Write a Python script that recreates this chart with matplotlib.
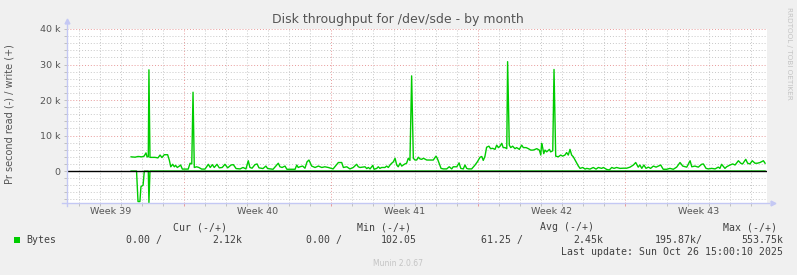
import numpy as np
import matplotlib.pyplot as plt
from matplotlib.patches import Rectangle
from matplotlib.ticker import MultipleLocator, FuncFormatter

# time axis: days since Mon 22 Sep 2025 00:00, values in kB/s
write_day = [
    4.48, 4.67, 4.81, 5.00, 5.10, 5.19, 5.24, 5.30, 5.33, 5.38,
    5.62, 5.76, 5.86, 5.95, 6.06, 6.22, 6.30, 6.37, 6.46, 6.54,
    6.60, 6.68, 6.78, 6.84, 6.92, 7.20, 7.29, 7.37, 7.43, 7.49,
    7.60, 7.71, 7.84, 8.00, 8.16, 8.25, 8.35, 8.44, 8.57, 8.68,
    8.82, 8.95, 9.08, 9.24, 9.35, 9.48, 9.67, 9.81, 9.95, 10.06,
    10.14, 10.24, 10.38, 10.48, 10.57, 10.76, 10.90, 10.98, 11.24, 11.49,
    11.57, 11.67, 11.81, 11.90, 12.29, 12.37, 12.44, 12.52, 12.65, 12.76,
    12.86, 12.95, 13.08, 13.24, 13.40, 13.56, 13.71, 13.87, 13.99, 14.10,
    14.35, 14.51, 14.59, 14.75, 14.90, 15.06, 15.22, 15.30, 15.38, 15.62,
    15.70, 15.78, 15.86, 15.99, 16.05, 16.18, 16.25, 16.33, 16.41, 16.57,
    16.65, 16.73, 16.81, 16.89, 16.97, 17.05, 17.13, 17.20, 17.29, 17.37,
    17.44, 17.52, 17.60, 17.68, 17.76, 17.84, 17.92, 18.00, 18.08, 18.16,
    18.24, 18.32, 18.40, 18.56, 18.71, 18.87, 19.00, 19.06, 19.16, 19.24,
    19.35, 19.51, 19.63, 19.75, 19.82, 19.99, 20.10, 20.18, 20.30, 20.38,
    20.46, 20.54, 20.70, 20.86, 20.97, 21.10, 21.18, 21.25, 21.33, 21.41,
    21.52, 21.60, 21.70, 21.81, 21.89, 21.97, 22.05, 22.13, 22.20, 22.29,
    22.37, 22.41, 22.49, 22.56, 22.65, 22.76, 22.84, 22.97, 23.08, 23.16,
    23.29, 23.40, 23.51, 23.63, 23.80, 23.92, 23.99, 24.03, 24.08, 24.13,
    24.19, 24.27, 24.40, 24.46, 24.56, 24.62, 24.70, 24.82, 24.94, 25.03,
    25.14, 25.22, 25.30, 25.38, 25.46, 25.54, 25.67, 25.78, 25.86, 25.99,
    26.10, 26.18, 26.33, 26.49, 26.62, 26.73, 26.89, 26.97, 27.13, 27.25,
    27.37, 27.48, 27.60, 27.76, 27.92, 28.08, 28.24, 28.40, 28.51, 28.63,
    28.71, 28.80, 28.90, 29.00, 29.11, 29.22, 29.35, 29.48, 29.59, 29.70,
    29.82, 29.99, 30.14, 30.30, 30.46, 30.62, 30.75, 30.94, 31.10, 31.18,
    31.33, 31.49, 31.65, 31.73, 31.86, 31.97, 32.13, 32.29, 32.44, 32.52,
    32.60, 32.76, 32.84, 33.00, 33.13, 33.24, 33.40, 33.51, 33.60, 33.75,
    33.84, 33.95, 34.06, 34.19, 34.30, 34.43, 34.59, 34.67,
]
write_kb = [
    4.0, 3.9, 4.1, 4.0, 4.2, 5.1, 4.0, 4.0, 28.5, 3.85,
    3.85, 3.7, 4.5, 3.8, 4.6, 4.6, 3.1, 1.2, 1.9, 1.2,
    1.6, 1.0, 1.4, 1.7, 0.55, 0.55, 2.2, 2.0, 22.2, 1.0,
    1.2, 1.0, 0.55, 0.55, 1.9, 1.0, 1.8, 1.0, 1.9, 0.9,
    1.0, 1.9, 0.9, 1.7, 1.8, 0.7, 0.6, 1.0, 0.6, 2.9,
    1.0, 0.8, 1.8, 2.0, 0.9, 0.7, 1.4, 0.7, 0.5, 2.2,
    1.2, 1.0, 1.4, 0.5, 0.5, 1.7, 1.0, 1.2, 1.4, 0.8,
    2.6, 3.1, 1.4, 1.0, 1.4, 1.0, 1.2, 1.0, 0.8, 0.6,
    2.4, 2.4, 1.0, 1.2, 0.6, 1.0, 1.9, 1.2, 1.0, 1.2,
    0.7, 1.0, 0.6, 1.6, 0.5, 0.75, 1.2, 0.75, 1.0, 1.0,
    1.4, 1.0, 1.7, 2.2, 2.6, 3.6, 1.7, 1.2, 2.2, 1.4,
    1.7, 2.0, 2.2, 3.6, 3.0, 26.8, 3.6, 3.1, 3.1, 3.9,
    3.4, 3.3, 3.6, 3.1, 3.1, 3.1, 4.2, 3.6, 2.0, 0.75,
    0.6, 0.6, 1.2, 0.6, 1.2, 1.2, 2.3, 0.75, 0.6, 1.7,
    0.75, 0.6, 0.6, 1.7, 2.6, 3.9, 4.1, 3.0, 4.1, 6.7,
    7.0, 6.3, 6.4, 6.1, 7.3, 6.6, 7.0, 7.8, 6.6, 6.6,
    6.3, 30.8, 7.3, 6.6, 7.0, 6.3, 6.6, 6.1, 7.3, 6.6,
    6.6, 6.3, 5.9, 5.9, 6.3, 5.9, 4.5, 7.8, 6.6, 4.9,
    5.9, 5.4, 6.1, 5.4, 5.7, 28.6, 4.2, 4.0, 4.5, 4.2,
    4.5, 5.2, 4.5, 6.1, 4.5, 4.0, 2.6, 1.4, 0.75, 1.0,
    0.55, 0.75, 0.55, 1.0, 0.55, 1.0, 0.75, 1.0, 0.45, 0.3,
    1.0, 0.75, 1.0, 0.75, 0.8, 0.8, 1.1, 1.7, 2.4, 1.1,
    1.7, 0.75, 1.7, 0.75, 1.1, 0.75, 1.4, 1.1, 1.4, 1.7,
    0.5, 0.5, 0.75, 0.5, 1.1, 2.4, 1.4, 1.1, 2.9, 1.2,
    1.4, 1.1, 1.9, 2.0, 0.75, 0.6, 0.75, 0.6, 1.1, 0.75,
    1.9, 0.75, 1.2, 1.7, 2.0, 1.7, 2.9, 2.2, 2.0, 3.3,
    2.2, 2.0, 2.9, 2.2, 2.2, 2.4, 2.9, 2.2,
]
read_day = [4.48, 4.74, 4.81, 4.90, 4.95, 5.05, 5.11, 5.30, 5.33, 5.38, 34.67]
read_kb = [0.0, 0.0, 8.6, 8.6, 4.4, 4.0, 0.0, 0.0, 8.9, 0.0, 0.0]

week_names = ["Week 39", "Week 40", "Week 41", "Week 42", "Week 43"]
week_start = [0, 7, 14, 21, 28]

legend_heads = ["Cur (-/+)", "Min (-/+)", "Avg (-/+)", "Max (-/+)"]
legend_read = ["0.00 /", "0.00 /", "61.25 /", "195.87k/"]
legend_write = ["2.12k", "102.05", "2.45k", "553.75k"]
last_update = "Last update: Sun Oct 26 15:00:10 2025"

W, H = 797, 275
GREEN = "#00CC00"
TXT = "#555555"
MONO = "DejaVu Sans Mono"

fig = plt.figure(figsize=(W / 100, H / 100), dpi=100, facecolor="#F0F0F0")
ax = fig.add_axes([67 / W, 1 - 203 / H, 700 / W, 174 / H])
ax.set_facecolor("white")


def ftext(x, y, s, **kw):
    fig.text(x / W, 1 - y / H, s, **kw)


wx = np.array(write_day)
wy = np.array(write_kb) * 1000
rx = np.array(read_day)
ry = -np.array(read_kb) * 1000

ax.plot(rx, ry, color=GREEN, lw=1.0, zorder=3)
ax.axhline(0, color="black", lw=1.0, zorder=4)
ax.plot(wx, wy, color=GREEN, lw=1.0, zorder=5)

ax.set_xlim(1.4286, 34.762)
ax.set_ylim(-9000, 40000)

ax.yaxis.set_major_locator(MultipleLocator(10000))
ax.yaxis.set_minor_locator(MultipleLocator(2000))
ax.yaxis.set_major_formatter(FuncFormatter(lambda v, p: "0" if v == 0 else f"{v / 1000:.0f} k"))
ax.set_xticks(np.arange(2, 35), minor=True)
ax.set_xticks([s for s in week_start if s > 0])
ax.set_xticklabels([])

ax.grid(which="minor", color="#C8C8C8", ls=(0, (1, 2)), lw=0.7)
ax.grid(which="major", color="#E89A9A", ls=(0, (1, 2)), lw=0.7)
ax.set_axisbelow(True)

ax.tick_params(axis="both", which="both", length=2.5, width=0.7, color="#C0C0C0", pad=2)
ax.tick_params(axis="y", labelsize=6.8, labelcolor=TXT)
ax.tick_params(axis="x", which="major", color="#E89A9A")
for s in ax.spines.values():
    s.set_visible(False)

# axis lines with arrows like rrdtool
AX = "#C4C8F4"
ax.plot([0, 0], [-0.015, 1.035], color=AX, lw=1, transform=ax.transAxes, clip_on=False, zorder=6)
ax.plot([0], [1.045], marker="^", ms=3.5, color=AX, transform=ax.transAxes, clip_on=False, zorder=6)
ax.plot([-0.007, 1.003], [0, 0], color=AX, lw=1, transform=ax.transAxes, clip_on=False, zorder=6)
ax.plot([1.008], [0], marker=">", ms=3.5, color=AX, transform=ax.transAxes, clip_on=False, zorder=6)

for name, start in zip(week_names, week_start):
    ax.text(start + 3.5, -9 / 174, name, transform=ax.get_xaxis_transform(),
            ha="center", va="center", fontsize=6.8, color=TXT)

ftext(398, 19, "Disk throughput for /dev/sde - by month", ha="center", va="center",
      fontsize=9, color=TXT)
ftext(10, 114, "Pr second read (-) / write (+)", rotation=90, ha="center", va="center",
      fontsize=7, color=TXT)
ftext(789, 53, "RRDTOOL / TOBI OETIKER", rotation=-90, ha="center", va="center",
      fontsize=5.2, color="#C4C4C4")

# legend block
head_x = [173, 357, 540, 723]
read_x = [126, 306, 481, 655]
write_x = [242, 417, 603, 783]
for hx, h in zip(head_x, legend_heads):
    ftext(hx, 227, h, ha="left", va="center", fontsize=7.1, family=MONO, color="#404040")
fig.patches.append(Rectangle((14 / W, 1 - 243 / H), 6 / W, 6 / H, transform=fig.transFigure,
                             facecolor=GREEN, edgecolor="none"))
ftext(26, 240, "Bytes", ha="left", va="center", fontsize=7.1, family=MONO, color="#404040")
for x, s in zip(read_x, legend_read):
    ftext(x, 240, s, ha="left", va="center", fontsize=7.1, family=MONO, color="#404040")
for x, s in zip(write_x, legend_write):
    ftext(x, 240, s, ha="right", va="center", fontsize=7.1, family=MONO, color="#404040")
ftext(783, 252, last_update, ha="right", va="center", fontsize=7.1, family=MONO, color="#404040")
ftext(398, 263, "Munin 2.0.67", ha="center", va="center", fontsize=5.5, color="#C4C4C4")

fig.savefig("out.png", dpi=100, facecolor=fig.get_facecolor())
